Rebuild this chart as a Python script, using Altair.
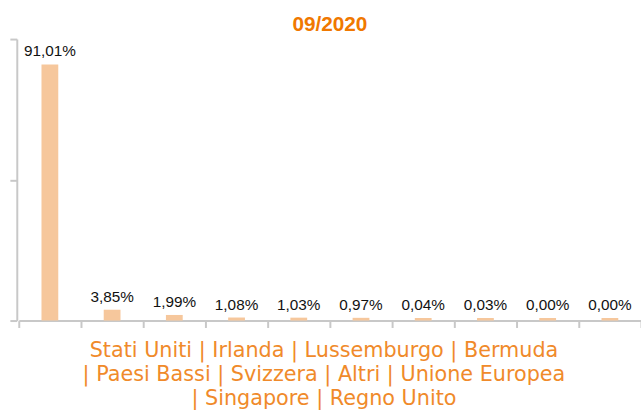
import altair as alt
import pandas as pd

categories = ["Stati Uniti", "Irlanda", "Lussemburgo", "Bermuda", "Paesi Bassi",
              "Svizzera", "Altri", "Unione Europea", "Singapore", "Regno Unito"]
values = [91.01, 3.85, 1.99, 1.08, 1.03, 0.97, 0.04, 0.03, 0.00, 0.00]
labels = [f"{v:.2f}".replace(".", ",") + "%" for v in values]
title_text = "09/2020"
footer_lines = ["Stati Uniti | Irlanda | Lussemburgo | Bermuda",
                "| Paesi Bassi | Svizzera | Altri | Unione Europea",
                "| Singapore | Regno Unito"]

df = pd.DataFrame({"cat": categories, "val": values, "lab": labels})
# minimal visible stub for zero values, as in the reference
df["shown"] = df["val"].clip(lower=0.9)

W, H = 630, 285
LEFT, TOP = 19, 37

x = alt.X("cat:N", sort=categories, title=None,
          scale=alt.Scale(paddingInner=0, paddingOuter=0),
          axis=alt.Axis(labels=False, ticks=True, tickSize=7, tickBand="extent",
                        domainColor="#c8c8c8", tickColor="#c8c8c8", domainWidth=2, tickWidth=2))
y = alt.Y("shown:Q", title=None, scale=alt.Scale(domain=[0, 100]),
          axis=alt.Axis(values=[0, 50, 100], labels=False, grid=False, tickSize=7,
                        domainColor="#c8c8c8", tickColor="#c8c8c8", domainWidth=2, tickWidth=2,
                        offset=2))

bars = alt.Chart(df).mark_bar(size=17, color="#F6C79C").encode(x=x, y=y)

text = alt.Chart(df).mark_text(baseline="alphabetic", dy=-8, font="Liberation Sans",
                               fontSize=15.5, color="#111111").encode(
    x=alt.X("cat:N", sort=categories), y=alt.Y("shown:Q"), text="lab:N")

footer = alt.Chart(pd.DataFrame({"t": [footer_lines]})).mark_text(
    font="DejaVu Sans", fontSize=21, color="#F08A2A", lineHeight=24,
    align="center", baseline="middle").encode(
    x=alt.value(328 - LEFT), y=alt.value(353 - TOP), text="t")

chart = alt.layer(bars, text, footer).properties(
    width=W, height=H,
    title=alt.TitleParams(title_text, font="Liberation Sans", fontSize=21, fontWeight="bold",
                          color="#F07800", anchor="middle", offset=3),
    autosize=alt.AutoSizeParams(type="none"),
    padding={"left": LEFT, "top": TOP, "right": 0, "bottom": 88},
).configure_view(stroke=None)

chart.save("out.html", embed_options={"renderer": "svg", "actions": False})
